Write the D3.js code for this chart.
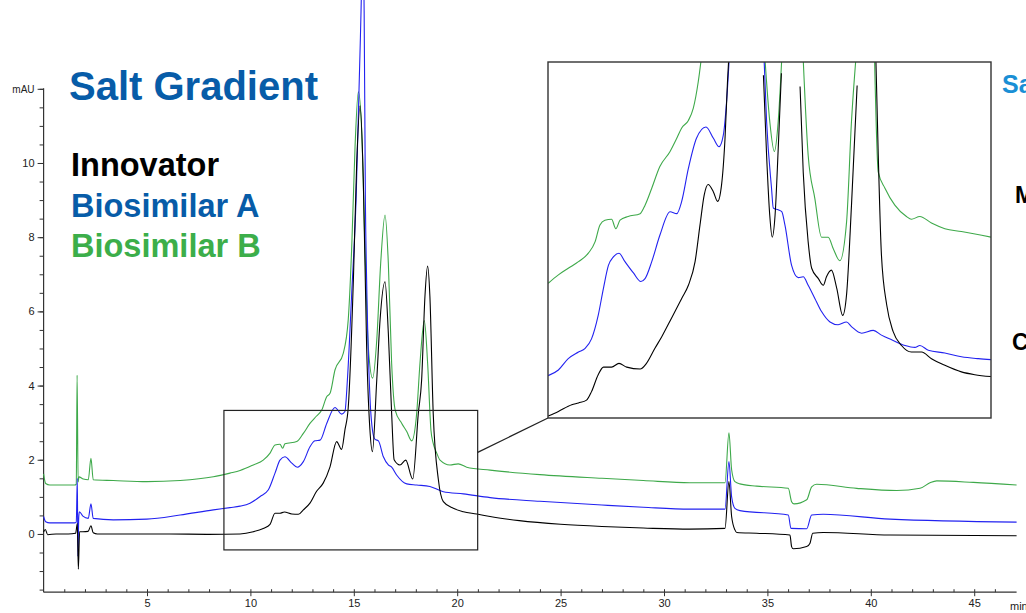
<!DOCTYPE html>
<html>
<head>
<meta charset="utf-8">
<script src="https://cdn.jsdelivr.net/npm/d3@7/dist/d3.min.js"></script>
<style>
  html, body { margin: 0; padding: 0; background: #fff; }
  svg { display: block; }
  text { font-family: "Liberation Sans", Arial, Helvetica, sans-serif; }
</style>
</head>
<body>
<svg id="chart" width="1026" height="613"></svg>
<script>
// ---------- DATA (time in min, absorbance in mAU) ----------
const seriesNames = ["Innovator", "Biosimilar A", "Biosimilar B"];

const innovatorMain = [
  [0,0.05],[0.08,0.12],[0.2,-0.02],[0.6,0],[1.2,0],[1.55,0.02],[1.63,0.28],[1.68,-0.95],[1.74,0.06],
  [1.9,0.06],[2.15,0.07],[2.29,0.22],[2.4,0.03],[2.6,0.0],[4,0],[6,0],[8,-0.01],[9.5,0.0],
  [10.14,0.06],[10.62,0.15],[10.95,0.26],[11.19,0.56],[11.43,0.56],[11.64,0.59],[12.0,0.54],[12.32,0.53],
  [12.56,0.65],[12.88,0.83],[13.2,1.15],[13.52,1.37],[13.85,1.81],[14.17,2.49],[14.41,2.28],[14.57,2.8],
  [14.73,3.4],[14.98,6.85],[15.14,9.99],[15.3,11.54],[15.46,9.54],[15.62,5.05],[15.78,2.8],[15.9,2.22],
  [16.11,4.15],[16.27,5.77],[16.51,6.8],[16.67,5.41],[16.83,3.25],[16.95,2.0],[17.23,1.86],[17.51,1.99],
  [17.85,1.48],[18.12,3.25],[18.28,4.15],[18.44,6.4],[18.57,7.22],[18.68,6.4],[18.84,3.25],[19.09,1.46],
  [19.33,0.87],[19.81,0.69],[20.3,0.6],[20.94,0.54],[21.59,0.47],[23,0.36],[25,0.26],[27,0.2],[29,0.16],
  [31.25,0.13],[32.95,0.15],[33.14,1.41],[33.27,0.47],[33.43,0.11],[33.52,0.04],[34.48,0.02],[36.09,-0.03],
  [36.17,-0.34],[36.25,-0.4],[36.9,-0.34],[37.06,-0.25],[37.19,0.02],[37.7,0.04],[40.93,-0.03],[47.05,-0.05]
];

const biosimilarAMain = [
  [0,0.47],[0.1,0.33],[0.3,0.3],[1.5,0.3],[1.58,0.32],[1.63,1.5],[1.66,-0.6],[1.7,0.45],[1.73,0.6],
  [1.9,0.48],[2.16,0.42],[2.29,0.81],[2.4,0.42],[3.37,0.38],[4.99,0.4],[6.6,0.51],[8.21,0.65],[9.01,0.71],
  [9.5,0.75],[9.98,0.83],[10.47,1.01],[10.87,1.19],[11.19,1.64],[11.43,1.99],[11.67,2.08],[12.0,1.91],
  [12.27,1.8],[12.56,1.95],[12.88,2.35],[13.12,2.51],[13.37,2.53],[13.69,2.98],[14.09,3.41],[14.41,3.23],
  [14.57,3.3],[14.69,4.15],[14.9,6.5],[15.11,9.0],[15.35,14.1],[15.43,16.0],[15.5,14.1],[15.56,9.0],
  [15.62,6.85],[15.78,3.7],[15.95,2.65],[16.03,2.55],[16.19,2.51],[16.43,2.08],[16.67,1.86],[16.83,1.8],
  [17.07,1.59],[17.56,1.35],[18.04,1.32],[18.68,1.28],[19.33,1.14],[20.3,1.08],[21.59,0.98],[24,0.88],
  [27,0.78],[29,0.72],[31.25,0.67],[32.95,0.67],[33.14,1.95],[33.27,1.0],[33.43,0.69],[33.67,0.63],
  [36.01,0.51],[36.14,0.15],[36.9,0.14],[37.14,0.51],[37.7,0.53],[40.93,0.4],[47.05,0.32]
];

const biosimilarBMain = [
  [0,1.62],[0.1,1.36],[0.3,1.32],[1.5,1.32],[1.58,1.34],[1.62,4.28],[1.67,1.4],[1.71,1.54],[1.92,1.48],
  [2.16,1.46],[2.29,2.04],[2.4,1.46],[3.37,1.44],[4.99,1.41],[6.6,1.44],[8.21,1.54],[9.01,1.64],[9.5,1.71],
  [10.14,1.86],[10.62,1.99],[10.95,2.18],[11.19,2.4],[11.43,2.42],[11.56,2.31],[11.67,2.43],[12.24,2.49],
  [12.56,2.71],[12.88,2.98],[13.2,3.18],[13.45,3.34],[13.69,3.7],[13.85,3.79],[14.09,4.42],[14.49,4.87],
  [14.73,5.77],[14.9,7.74],[15.06,10.44],[15.22,11.92],[15.38,10.89],[15.54,7.74],[15.7,5.05],[15.91,4.2],
  [16.11,5.23],[16.3,7.3],[16.51,8.6],[16.67,7.3],[16.83,4.6],[17.0,3.34],[17.32,2.98],[17.56,2.76],
  [17.8,2.51],[18.04,3.25],[18.2,4.6],[18.41,5.75],[18.57,4.6],[18.73,2.8],[18.84,2.44],[19.01,2.18],
  [19.17,1.99],[19.65,1.86],[20.05,1.89],[20.46,1.8],[21.59,1.72],[24,1.6],[27,1.5],[29,1.44],[31.25,1.38],
  [32.95,1.38],[33.14,2.73],[33.27,1.73],[33.43,1.41],[33.67,1.35],[34.48,1.29],[36.01,1.23],[36.17,0.87],
  [36.29,0.81],[36.9,0.92],[37.14,1.27],[37.38,1.34],[39.32,1.23],[41.25,1.17],[42.38,1.23],[42.86,1.38],
  [43.19,1.43],[44.96,1.39],[47.05,1.32]
];

// zoomed inset (its own rendering, null = gap where trace leaves the view)
const innovatorInset = [
  [9.63,0.03],[9.92,0.08],[10.3,0.15],[10.49,0.17],[10.72,0.2],[10.86,0.29],[11.05,0.47],[11.2,0.55],
  [11.43,0.55],[11.64,0.59],[11.86,0.55],[12.24,0.53],[12.42,0.59],[12.66,0.75],[12.85,0.87],[13.13,1.07],
  [13.42,1.28],[13.61,1.42],[13.8,1.67],[13.94,2.06],[14.06,2.38],[14.17,2.49],[14.32,2.41],[14.44,2.31],
  [14.55,2.48],[14.65,2.98],[14.72,3.58],[14.78,4.0],[15.0,null],[15.74,3.65],[15.83,2.8],[15.92,2.16],
  [15.99,1.93],[16.07,2.16],[16.16,2.87],[16.25,3.67],[16.5,null],[16.78,3.53],[16.87,2.62],[17.01,1.88],
  [17.11,1.6],[17.3,1.49],[17.44,1.42],[17.53,1.51],[17.67,1.58],[17.82,1.39],[17.99,1.1],[18.1,1.32],
  [18.24,2.27],[18.4,3.54],[18.6,null],[18.92,4.0],[19.0,2.8],[19.09,1.74],[19.24,1.21],[19.42,0.93],
  [19.66,0.78],[19.94,0.71],[20.23,0.71],[20.51,0.64],[20.89,0.57],[21.36,0.5],[21.74,0.47],[22.2,0.45]
];

const biosimilarAInset = [
  [9.63,0.46],[9.92,0.52],[10.2,0.64],[10.49,0.71],[10.68,0.75],[10.86,0.85],[11.05,1.1],[11.2,1.39],
  [11.34,1.63],[11.48,1.72],[11.64,1.76],[11.81,1.67],[12.05,1.55],[12.26,1.46],[12.38,1.49],[12.57,1.67],
  [12.8,1.95],[13.09,2.2],[13.28,2.18],[13.42,2.31],[13.61,2.66],[13.84,2.98],[14.11,3.1],[14.32,2.98],
  [14.48,2.89],[14.6,3.01],[14.7,3.4],[14.78,3.9],[15.2,null],[15.75,3.9],[15.83,3.16],[15.97,2.45],
  [16.02,2.24],[16.16,2.22],[16.26,2.2],[16.35,2.06],[16.54,1.63],[16.73,1.5],[16.87,1.51],[17.01,1.42],
  [17.2,1.28],[17.39,1.14],[17.63,1.03],[17.86,1.0],[18.1,1.03],[18.24,0.98],[18.53,0.91],[18.86,0.94],
  [19.09,0.89],[19.38,0.84],[19.76,0.78],[20.04,0.76],[20.18,0.78],[20.42,0.73],[20.89,0.7],[21.36,0.66],
  [21.84,0.64],[22.2,0.63]
];

const biosimilarBInset = [
  [9.63,1.44],[9.92,1.53],[10.2,1.6],[10.49,1.67],[10.77,1.76],[10.96,1.88],[11.1,2.06],[11.24,2.11],
  [11.43,2.12],[11.55,2.02],[11.67,2.11],[11.9,2.15],[12.24,2.18],[12.38,2.27],[12.57,2.45],[12.8,2.68],
  [13.09,2.84],[13.28,2.98],[13.42,3.09],[13.61,3.17],[13.75,3.3],[13.89,3.58],[14.0,3.9],[14.5,null],
  [15.77,3.9],[15.92,3.16],[16.05,2.84],[16.16,3.16],[16.27,3.9],[16.5,null],[16.86,3.9],[17.01,2.8],
  [17.2,2.34],[17.39,1.93],[17.58,1.93],[17.72,1.81],[17.91,1.68],[18.1,2.09],[18.24,3.16],[18.38,3.9],
  [18.6,null],[18.89,3.9],[19.0,2.62],[19.19,2.45],[19.47,2.27],[19.8,2.15],[19.94,2.12],[20.18,2.15],
  [20.51,2.08],[20.89,2.02],[21.36,1.99],[22.2,1.93]
];

const xTickValues = [5, 10, 15, 20, 25, 30, 35, 40, 45];
const yTickValues = [0, 2, 4, 6, 8, 10, 12];
const yTickLabels = ["0", "2", "4", "6", "8", "10", "mAU"];
const xUnit = "min";

const zoomWindow = { t: [8.72, 20.99], v: [-0.43, 3.33] };
const insetDomain = { t: [9.625, 22.2], v: [0.01, 3.79] };

// ---------- STYLE ----------
const colors = { Innovator: "#000000", "Biosimilar A": "#2222f0", "Biosimilar B": "#3ea94a" };
const darkBlue = "#075ca8";

const svg = d3.select("#chart");

// main scales
const x = d3.scaleLinear().domain([0, 47.05]).range([43.6, 1016.6]);
const y = d3.scaleLinear().domain([-1.57, 12]).range([592.2, 88.8]);

// axes
const axisColor = "#333";
const gy = svg.append("g").attr("transform", `translate(${x(0)},0)`);
gy.call(d3.axisLeft(y).tickValues(d3.range(-1.5, 12.01, 0.5)).tickSize(4).tickFormat(""));
gy.call(g => g.select(".domain").remove());
const gy2 = svg.append("g").attr("transform", `translate(${x(0)},0)`);
gy2.call(d3.axisLeft(y).tickValues(yTickValues).tickSize(6).tickPadding(3)
  .tickFormat((d, i) => yTickLabels[i]));
gy2.select(".domain").remove();
gy2.selectAll("text").attr("font-size", 11).attr("fill", "#222");
gy2.selectAll("text").filter((d) => d === 12).attr("font-size", 10);
svg.selectAll(".tick line").attr("stroke", axisColor);

svg.append("line").attr("x1", x(0)).attr("x2", x(0)).attr("y1", y(12) - 0.5).attr("y2", y(-1.57))
  .attr("stroke", axisColor).attr("stroke-width", 1.2);

const gx = svg.append("g").attr("transform", `translate(0,${y(-1.57)})`);
gx.call(d3.axisBottom(x).tickValues(d3.range(1, 47, 1)).tickSize(-3).tickFormat(""));
gx.select(".domain").remove();
const gx2 = svg.append("g").attr("transform", `translate(0,${y(-1.57)})`);
gx2.call(d3.axisBottom(x).tickValues(xTickValues).tickSize(4).tickPadding(3).tickFormat(d3.format("d")));
gx2.select(".domain").remove();
gx2.selectAll("text").attr("font-size", 11).attr("fill", "#222");
svg.selectAll(".tick line").attr("stroke", axisColor);
svg.append("line").attr("x1", x(0)).attr("x2", x(47.05)).attr("y1", y(-1.57)).attr("y2", y(-1.57))
  .attr("stroke", axisColor).attr("stroke-width", 1.2);
svg.append("text").attr("x", 1010).attr("y", y(-1.57) + 18).attr("font-size", 11).attr("fill", "#222").text(xUnit);

// main traces
const mainLine = d3.line().x(d => x(d[0])).y(d => y(d[1])).curve(d3.curveMonotoneX);
const mainSeries = [
  ["Biosimilar B", biosimilarBMain],
  ["Biosimilar A", biosimilarAMain],
  ["Innovator", innovatorMain]
];
svg.append("g").selectAll("path").data(mainSeries).join("path")
  .attr("d", d => mainLine(d[1]))
  .attr("fill", "none")
  .attr("stroke", d => colors[d[0]])
  .attr("stroke-width", 1.1)
  .attr("stroke-linejoin", "round");

// zoom window box on main chart
const bx0 = x(zoomWindow.t[0]), bx1 = x(zoomWindow.t[1]);
const by0 = y(zoomWindow.v[1]), by1 = y(zoomWindow.v[0]);
svg.append("rect").attr("x", bx0).attr("y", by0).attr("width", bx1 - bx0).attr("height", by1 - by0)
  .attr("fill", "none").attr("stroke", "#222").attr("stroke-width", 1.2);

// inset
const ix = d3.scaleLinear().domain(insetDomain.t).range([548, 991]);
const iy = d3.scaleLinear().domain(insetDomain.v).range([418, 62]);

svg.append("line")
  .attr("x1", bx1).attr("y1", y(2.2))
  .attr("x2", ix.range()[0]).attr("y2", iy.range()[0])
  .attr("stroke", "#222").attr("stroke-width", 1.2);

svg.append("rect").attr("x", 548).attr("y", 62).attr("width", 443).attr("height", 356).attr("fill", "#fff");
svg.append("clipPath").attr("id", "insetClip").append("rect")
  .attr("x", 548).attr("y", 62).attr("width", 443).attr("height", 356);

const insetLine = d3.line().defined(d => d[1] !== null)
  .x(d => ix(d[0])).y(d => iy(d[1])).curve(d3.curveMonotoneX);
const insetSeries = [
  ["Biosimilar B", biosimilarBInset],
  ["Biosimilar A", biosimilarAInset],
  ["Innovator", innovatorInset]
];
svg.append("g").attr("clip-path", "url(#insetClip)")
  .selectAll("path").data(insetSeries).join("path")
  .attr("d", d => insetLine(d[1]))
  .attr("fill", "none")
  .attr("stroke", d => colors[d[0]])
  .attr("stroke-width", 1.1)
  .attr("stroke-linejoin", "round");

svg.append("rect").attr("x", 548).attr("y", 62).attr("width", 443).attr("height", 356)
  .attr("fill", "none").attr("stroke", "#333").attr("stroke-width", 1.4);

// legend / titles
svg.append("text").attr("x", 69).attr("y", 100).attr("font-size", 40).attr("font-weight", "bold")
  .attr("fill", darkBlue).text("Salt Gradient");
const legendColors = ["#000000", darkBlue, "#3cae4a"];
svg.append("g").selectAll("text").data(seriesNames).join("text")
  .attr("x", 71).attr("y", (d, i) => 176 + i * 40.5)
  .attr("font-size", 32.5).attr("font-weight", "bold")
  .attr("fill", (d, i) => legendColors[i]).text(d => d);

// partial texts of the neighbouring panel (cut at the right edge)
svg.append("text").attr("x", 1002).attr("y", 93).attr("font-size", 25).attr("font-weight", "bold")
  .attr("fill", "#1a8fd5").text("Salt");
svg.append("text").attr("x", 1015).attr("y", 203).attr("font-size", 23).attr("font-weight", "bold")
  .attr("fill", "#000").text("M");
svg.append("text").attr("x", 1012).attr("y", 350).attr("font-size", 23).attr("font-weight", "bold")
  .attr("fill", "#000").text("C");
</script>
</body>
</html>
